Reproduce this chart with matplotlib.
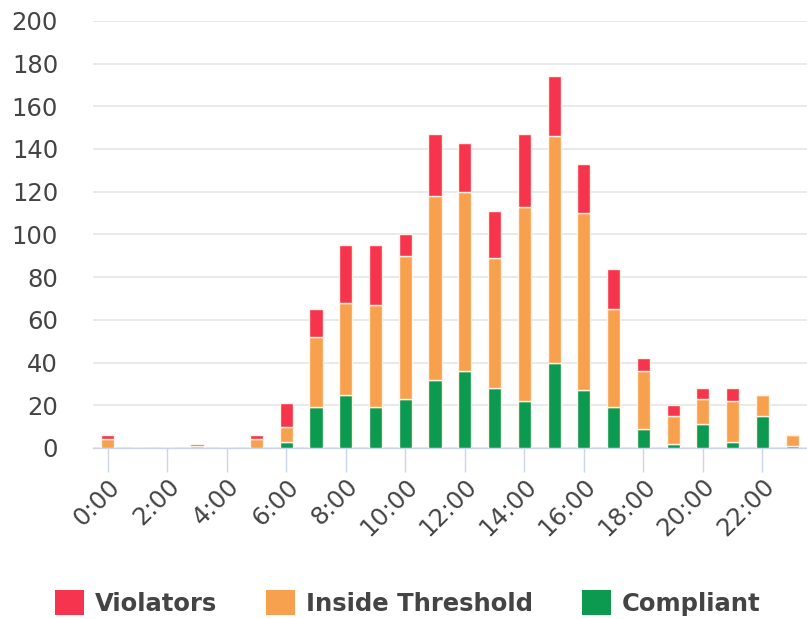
import matplotlib
matplotlib.use("Agg")
import matplotlib.pyplot as plt
from matplotlib.patches import Patch
import numpy as np

hours = list(range(24))
hour_labels = [f"{h}:00" for h in hours]
compliant = [0, 0, 0, 0, 0, 0, 3, 19, 25, 19, 23, 32, 36, 28, 22, 40, 27, 19, 9, 2, 11, 3, 15, 1]
inside = [4, 0, 0, 1, 0, 4, 7, 33, 43, 48, 67, 86, 84, 61, 91, 106, 83, 46, 27, 13, 12, 19, 10, 5]
violators = [2, 0, 0, 1, 0, 2, 11, 13, 27, 28, 10, 29, 23, 22, 34, 28, 23, 19, 6, 5, 5, 6, 0, 0]
y_ticks = [0, 20, 40, 60, 80, 100, 120, 140, 160, 180, 200]

c_red = "#F7344E"
c_orange = "#F7A04E"
c_green = "#0B9A50"

fig = plt.figure(figsize=(8.07, 6.19), dpi=100)
ax = fig.add_axes([0.115, 0.2763, 0.885, 0.69])

x = np.array(hours)
comp = np.array(compliant)
ins = np.array(inside)
vio = np.array(violators)
w = 0.44
kw = dict(width=w, edgecolor="#FFF3E6", linewidth=1.0, zorder=3)
ax.bar(x, comp, color=c_green, **kw)
ax.bar(x, ins, bottom=comp, color=c_orange, **kw)
ax.bar(x, vio, bottom=comp + ins, color=c_red, **kw)

ax.set_xlim(-0.5, 23.5)
ax.set_ylim(0, 200)
ax.set_yticks(y_ticks)
ax.set_xticks(hours[::2])
ax.set_xticklabels(hour_labels[::2], rotation=45, ha="right", rotation_mode="anchor")
ax.tick_params(axis="x", length=17, color="#CCD6EB", width=1, pad=2,
               labelsize=17.5, labelcolor="#444444")
ax.tick_params(axis="y", length=0, pad=25, labelsize=17.5, labelcolor="#444444")
ax.grid(axis="y", color="#E6E6E6", linewidth=1.2, zorder=0)
ax.set_axisbelow(True)
for s in ["left", "right", "top"]:
    ax.spines[s].set_visible(False)
ax.spines["bottom"].set_color("#CCD6EB")
ax.spines["bottom"].set_linewidth(1)

handles = [Patch(facecolor=c_red, label="Violators"),
           Patch(facecolor=c_orange, label="Inside Threshold"),
           Patch(facecolor=c_green, label="Compliant")]
leg = fig.legend(handles=handles, loc="center", bbox_to_anchor=(0.505, 0.026), ncol=3,
                 frameon=False, handlelength=1.2, handleheight=1.2,
                 handletextpad=0.45, columnspacing=2.0,
                 prop={"weight": "bold", "size": 17.5})
for t in leg.get_texts():
    t.set_color("#444444")

fig.savefig("out.png", dpi=100)
